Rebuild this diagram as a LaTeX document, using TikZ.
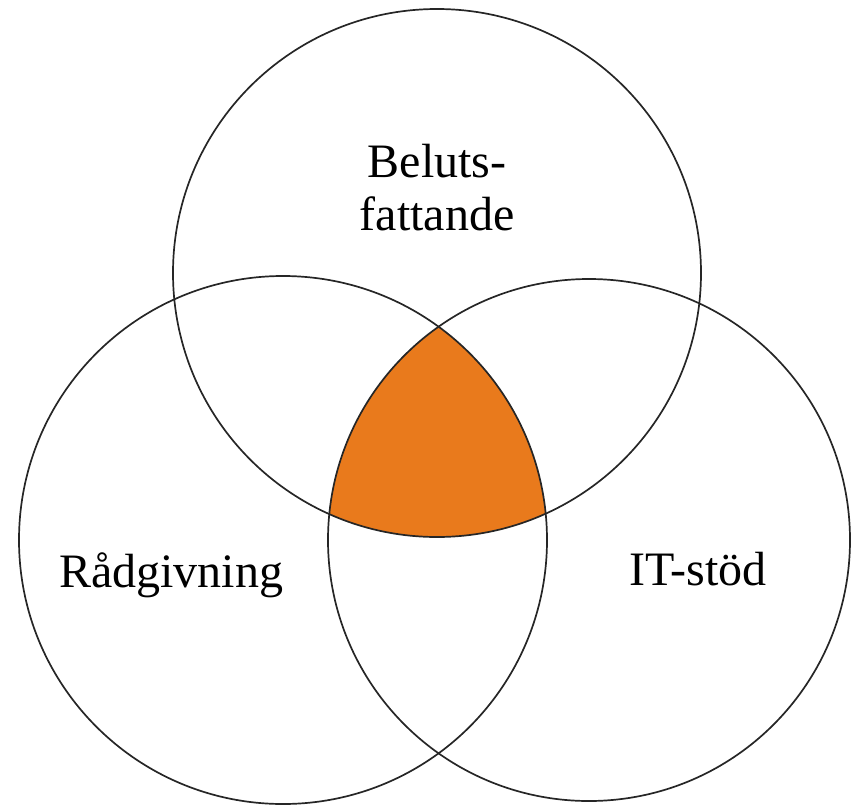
\documentclass[tikz,border=0pt]{standalone}
\usepackage{fontspec}
\setmainfont{Liberation Serif}
\definecolor{vennorange}{RGB}{233,122,28}
\begin{document}
\begin{tikzpicture}[x=1pt,y=-1pt,
  ring/.style={draw=black!85,line width=1.7pt},
  lbl/.style={font=\fontsize{48}{53}\selectfont,inner sep=0pt,align=center}]
\useasboundingbox (0,0) rectangle (851,804);
\coordinate (ct) at (437,273);
\coordinate (cl) at (283,540);
\coordinate (cr) at (589,540);
\begin{scope}
  \clip (ct) circle (264);
  \clip (cl) circle (264);
  \fill[vennorange] (cr) circle (261);
\end{scope}
\draw[ring] (ct) circle (264);
\draw[ring] (cl) circle (264);
\draw[ring] (cr) circle (261);
\node[lbl,anchor=base] (top) at (437,230) {Beluts-\\fattande};
\node[lbl,anchor=base] (left) at (171,587) {Rådgivning};
\node[lbl,anchor=base] (right) at (698,585) {IT-stöd};
\end{tikzpicture}
\end{document}
